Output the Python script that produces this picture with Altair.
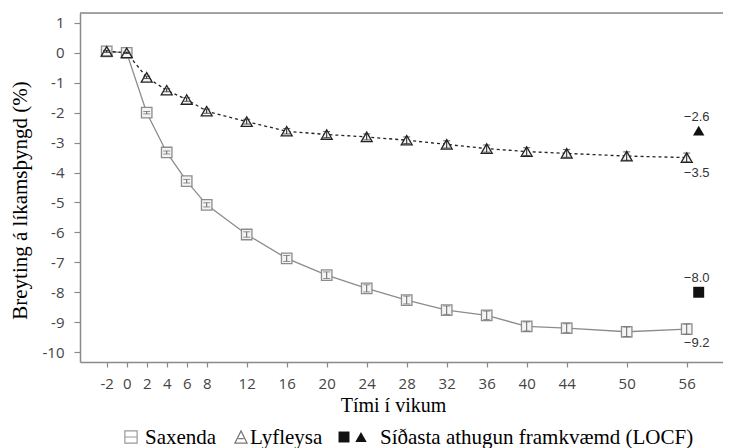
import altair as alt
import pandas as pd

# ---- data ----
weeks = [-2, 0, 2, 4, 6, 8, 12, 16, 20, 24, 28, 32, 36, 40, 44, 50, 56]
saxenda = [0.05, 0.0, -2.0, -3.33, -4.29, -5.08, -6.07, -6.87, -7.43, -7.87,
           -8.26, -8.6, -8.77, -9.14, -9.2, -9.32, -9.23]
saxenda_err = [0.03, 0.02, 0.04, 0.05, 0.06, 0.07, 0.09, 0.10, 0.11, 0.12,
               0.13, 0.14, 0.14, 0.15, 0.15, 0.16, 0.17]
lyfleysa = [0.05, 0.0, -0.82, -1.25, -1.56, -1.95, -2.3, -2.62, -2.73, -2.81,
            -2.92, -3.06, -3.2, -3.3, -3.36, -3.45, -3.5]
lyfleysa_err = [0.03, 0.02, 0.04, 0.05, 0.06, 0.07, 0.08, 0.09, 0.10, 0.10,
                0.11, 0.12, 0.12, 0.13, 0.13, 0.14, 0.15]
locf_week = 57.2
locf_saxenda = -8.0
locf_lyfleysa = -2.6
label_week = 57.0
labels_above = [-2.6, -8.0]
labels_below = [-3.5, -9.2]
x_ticks = weeks
y_ticks = [-10, -9, -8, -7, -6, -5, -4, -3, -2, -1, 0, 1]

W, H = 643, 349
xs = alt.Scale(domain=[-4.67, 59.63], nice=False, zero=False)
ys = alt.Scale(domain=[-10.33, 1.33], nice=False, zero=False)

sax = pd.DataFrame({"w": weeks, "v": saxenda,
                    "lo": [v - e for v, e in zip(saxenda, saxenda_err)],
                    "hi": [v + e for v, e in zip(saxenda, saxenda_err)]})
lyf = pd.DataFrame({"w": weeks, "v": lyfleysa,
                    "lo": [v - e for v, e in zip(lyfleysa, lyfleysa_err)],
                    "hi": [v + e for v, e in zip(lyfleysa, lyfleysa_err)]})

SAX_C = "#8c8c8c"
LYF_C = "#222222"

xaxis = alt.Axis(
    values=x_ticks, title="Tími í vikum", grid=False,
    labelFont="Open Sans", labelFontSize=15, labelColor="#444",
    labelPadding=9, tickSize=5, tickColor="#8a8a8a", domainColor="#8a8a8a",
    domainWidth=1.5, tickWidth=1.2, labelFlush=False, labelOverlap=False,
    labelExpr="'' + datum.value",
    titleFont="Liberation Serif", titleFontSize=20, titleFontWeight="normal",
    titleColor="#000", titleX=313, titleY=49, titleBaseline="alphabetic",
    titleAlign="center")
yaxis = alt.Axis(
    values=y_ticks, title="Breyting á líkamsþyngd (%)", grid=False,
    labelFont="Open Sans", labelFontSize=15, labelColor="#444",
    labelPadding=10, tickSize=6, tickColor="#8a8a8a", domainColor="#8a8a8a",
    domainWidth=1.5, tickWidth=1.2, labelExpr="'' + datum.value",
    labelOverlap=False, labelFlush=False,
    titleFont="Liberation Serif", titleFontSize=21, titleFontWeight="normal",
    titleColor="#000", titleX=-60, titleY=187, titleAngle=-90,
    titleBaseline="middle", titleAlign="center")

xq = alt.X("w:Q", scale=xs, axis=xaxis)
yq = alt.Y("v:Q", scale=ys, axis=yaxis)
ylo = alt.Y("lo:Q", scale=ys, axis=yaxis)
yhi = alt.Y("hi:Q", scale=ys, axis=yaxis)

line_sax = alt.Chart(sax).mark_line(color=SAX_C, strokeWidth=1.3).encode(x=xq, y=yq)
line_lyf = alt.Chart(lyf).mark_line(color=LYF_C, strokeWidth=1.3,
                                    strokeDash=[3, 3]).encode(x=xq, y=yq)

pts_sax = alt.Chart(sax).mark_point(shape="square", size=110, filled=False,
                                    fill="#f4f4f4", fillOpacity=1,
                                    stroke=SAX_C, strokeWidth=1.3, opacity=1).encode(x=xq, y=yq)
pts_lyf = alt.Chart(lyf).mark_point(shape="triangle-up", size=120, filled=False,
                                    fill="#f4f4f4", fillOpacity=1,
                                    stroke=LYF_C, strokeWidth=1.3, opacity=1).encode(x=xq, y=yq)


def errbars(df, color):
    r = alt.Chart(df).mark_rule(color=color, strokeWidth=1).encode(
        x=xq, y=ylo, y2="hi:Q")
    t1 = alt.Chart(df).mark_tick(color=color, thickness=1, size=7,
                                 orient="horizontal").encode(x=xq, y=ylo)
    t2 = alt.Chart(df).mark_tick(color=color, thickness=1, size=7,
                                 orient="horizontal").encode(x=xq, y=yhi)
    return r + t1 + t2


eb_sax = errbars(sax, "#666666")
eb_lyf = errbars(lyf, LYF_C)

locf_sq = alt.Chart(pd.DataFrame({"w": [locf_week], "v": [locf_saxenda]})).mark_point(
    shape="square", size=120, filled=True, color="#111", opacity=1).encode(x=xq, y=yq)
locf_tr = alt.Chart(pd.DataFrame({"w": [locf_week], "v": [locf_lyfleysa]})).mark_point(
    shape="triangle-up", size=130, filled=True, color="#111", opacity=1).encode(x=xq, y=yq)

lab_above = alt.Chart(pd.DataFrame({"w": [label_week] * len(labels_above), "v": labels_above,
                                    "t": ["\u2212%.1f" % abs(v) for v in labels_above]})).mark_text(
    font="Liberation Sans", fontSize=13, color="#333", dy=-14).encode(x=xq, y=yq, text="t:N")
lab_below = alt.Chart(pd.DataFrame({"w": [label_week] * len(labels_below), "v": labels_below,
                                    "t": ["\u2212%.1f" % abs(v) for v in labels_below]})).mark_text(
    font="Liberation Sans", fontSize=13, color="#333", dy=15).encode(x=xq, y=yq, text="t:N")

top_frame = alt.Chart(pd.DataFrame({"a": [0]})).mark_rule(color="#8a8a8a", strokeWidth=1.5).encode(
    x=alt.value(0), x2=alt.value(W), y=alt.value(0))

# ---- legend (below the x axis title) ----
LEG_Y = 431
leg_df = pd.DataFrame({"a": [0]})
sym_sax = alt.Chart(leg_df).mark_point(shape="M-1,-1H1V1H-1Z M-1,0H1", size=150, filled=False,
                                       stroke="#999", strokeWidth=1.2, opacity=1).encode(
    x=alt.value(51), y=alt.value(LEG_Y - 7))
sym_lyf = alt.Chart(leg_df).mark_point(shape="M0,-1L1,1H-1Z M-0.45,0.25H0.45", size=150, filled=False,
                                       stroke="#777", strokeWidth=1.2, opacity=1).encode(
    x=alt.value(161), y=alt.value(LEG_Y - 7))
sym_sq = alt.Chart(leg_df).mark_point(shape="square", size=120, filled=True, color="#111",
                                      opacity=1).encode(x=alt.value(264), y=alt.value(LEG_Y - 7))
sym_tr = alt.Chart(leg_df).mark_point(shape="triangle-up", size=130, filled=True, color="#111",
                                      opacity=1).encode(x=alt.value(281), y=alt.value(LEG_Y - 7))


def leg_text(txt, x):
    return alt.Chart(leg_df).mark_text(font="Liberation Serif", fontSize=21, color="#000",
                                       align="left", baseline="alphabetic").encode(
        x=alt.value(x), y=alt.value(LEG_Y), text=alt.value(txt))


leg = (sym_sax + leg_text("Saxenda", 65) + sym_lyf + leg_text("Lyfleysa", 170)
       + sym_sq + sym_tr + leg_text("Síðasta athugun framkvæmd (LOCF)", 300))

chart = alt.layer(
    line_sax, line_lyf, pts_sax, pts_lyf, eb_sax, eb_lyf, locf_sq, locf_tr,
    lab_above, lab_below, top_frame, leg
).properties(
    width=W, height=H,
    autosize=alt.AutoSizeParams(type="none"),
    padding={"left": 72, "top": 5, "right": 0, "bottom": 92},
).configure_view(stroke=None).configure(background="white")

chart.save("out.html", embed_options={"renderer": "svg", "actions": False})
